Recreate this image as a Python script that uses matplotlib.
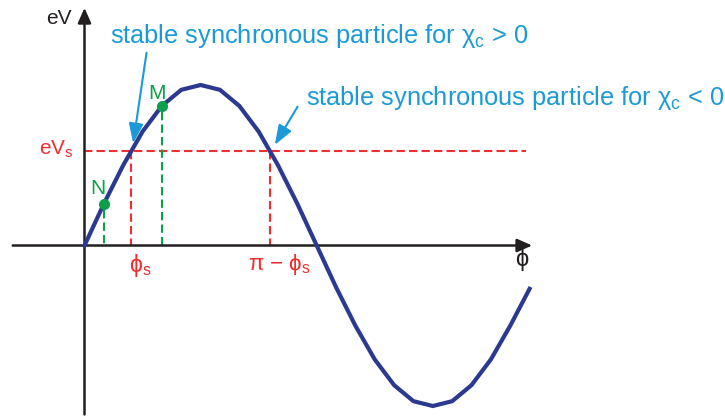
import matplotlib
matplotlib.use("Agg")
import matplotlib.pyplot as plt

plt.rcParams['font.family'] = ['Liberation Sans', 'DejaVu Sans']
plt.rcParams['mathtext.default'] = 'regular'

# RF voltage seen by the particle, read every 15 degrees of phase
phi = [0, 15, 30, 45, 60, 75, 90, 105, 120, 135, 150, 165,
       180, 195, 210, 225, 240, 255, 270, 285, 300, 315, 330, 345]
ev = [0.0, 0.26, 0.50, 0.71, 0.87, 0.97, 1.00, 0.97, 0.87, 0.71, 0.50, 0.26,
      0.0, -0.26, -0.50, -0.71, -0.87, -0.97, -1.00, -0.97, -0.87, -0.71, -0.50, -0.27]

phi_s = 36
ev_s = 0.59
phi_N, ev_N = 15, 0.26
phi_M, ev_M = 60, 0.87

navy = '#2b3990'
blue = '#1b9ad7'
red = '#ee2e2f'
green = '#0da04a'
black = '#231f20'

fig = plt.figure(figsize=(7.25, 4.17), dpi=100)
ax = fig.add_axes([0, 0, 1, 1])
ax.set_xlim(-65.5, 496.5)
ax.set_ylim(-1.0685, 1.5296)
ax.axis('off')

# axes with arrow heads
ax.annotate('', xy=(349.2, 0), xytext=(-57.8, 0),
            arrowprops=dict(arrowstyle='-|>,head_length=0.5,head_width=0.22',
                            color=black, lw=1.8, mutation_scale=18))
ax.annotate('', xy=(0, 1.498), xytext=(0, -1.07),
            arrowprops=dict(arrowstyle='-|>,head_length=0.5,head_width=0.22',
                            color=black, lw=1.8, mutation_scale=18))

# synchronous level and phases
dash = (0, (4, 2))
ax.plot([0, 342], [ev_s, ev_s], color=red, lw=1.5, ls=dash)
ax.plot([phi_s, phi_s], [ev_s, 0], color=red, lw=1.5, ls=dash)
ax.plot([180 - phi_s, 180 - phi_s], [ev_s, 0], color=red, lw=1.5, ls=dash)
ax.plot([phi_N, phi_N], [ev_N - 0.04, 0], color=green, lw=1.5, ls=dash)
ax.plot([phi_M, phi_M], [ev_M - 0.04, 0], color=green, lw=1.5, ls=dash)

ax.plot(phi, ev, color=navy, lw=3, solid_joinstyle='miter', zorder=5)
ax.plot([phi_N, phi_M], [ev_N, ev_M], 'o', color=green, ms=7, zorder=6)

fs = 15
ax.text(-9.7, 1.38, 'eV', color=black, fontsize=fs, ha='right', va='baseline')
ax.text(-8.1, 0.564, 'eV$_s$', color=red, fontsize=fs, ha='right', va='baseline')
ax.text(4.3, 0.32, 'N', color=green, fontsize=fs, ha='left', va='baseline')
ax.text(49.5, 0.913, 'M', color=green, fontsize=fs, ha='left', va='baseline')
ax.text(43, -0.04, 'ϕ$_s$', color=red, fontsize=16.5, ha='center', va='top')
ax.text(127, -0.04, 'π − ϕ$_s$', color=red, fontsize=16, ha='left', va='top')
ax.text(339, -0.016, 'ϕ', color=black, fontsize=17, ha='center', va='top')

fb = 18.3
ax.text(19.8, 1.262, 'stable synchronous particle for χ$_c$ > 0', color=blue,
        fontsize=fb, ha='left', va='baseline')
ax.text(172, 0.875, 'stable synchronous particle for χ$_c$ < 0', color=blue,
        fontsize=fb, ha='left', va='baseline')
ax.annotate('', xy=(37.4, 0.62), xytext=(48.4, 1.218),
            arrowprops=dict(arrowstyle='-|>,head_length=0.6,head_width=0.22',
                            color=blue, lw=1.5, mutation_scale=20))
ax.annotate('', xy=(146.4, 0.612), xytext=(166.3, 0.88),
            arrowprops=dict(arrowstyle='-|>,head_length=0.6,head_width=0.22',
                            color=blue, lw=1.5, mutation_scale=20))

fig.savefig('out.png', dpi=100)
